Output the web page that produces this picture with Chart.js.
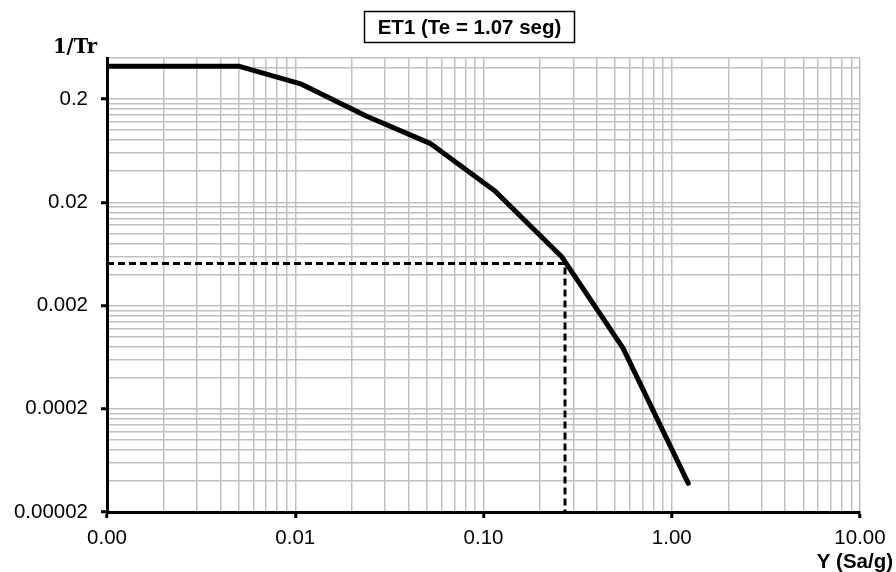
<!DOCTYPE html>
<html><head><meta charset="utf-8">
<script src="https://cdn.jsdelivr.net/npm/chart.js@4/dist/chart.umd.min.js"></script>
<style>html,body{margin:0;padding:0;background:#fff}#wrap{width:896px;height:572px}</style>
</head><body><div id="wrap"><canvas id="c" width="896" height="572"></canvas></div>
<script>
// ---- data ----
const sa = [0.001, 0.005, 0.0108, 0.0238, 0.052, 0.115, 0.261, 0.551, 1.224];
const invTr = [0.417, 0.417, 0.279, 0.137, 0.0745, 0.0257, 0.0059, 0.000775, 0.0000379];
const guideX = [0.001, 0.271, 0.271];
const guideY = [0.0051, 0.0051, 0.00002];
const xTickValues = [0.001, 0.01, 0.1, 1, 10];
const xTickLabels = ['0.00', '0.01', '0.10', '1.00', '10.00'];
const yTickValues = [0.00002, 0.0002, 0.002, 0.02, 0.2];
const yTickLabels = ['0.00002', '0.0002', '0.002', '0.02', '0.2'];
const xMin = 0.001, xMax = 10, yMin = 0.00002, yMax = 0.5;
const titleText = 'ET1 (Te = 1.07 seg)';
const yTitle = '1/Tr';
const xTitle = 'Y (Sa/g)';

function buildLogTicks(majors, labels, max) {
  const t = [];
  majors.forEach((v, i) => {
    t.push({ value: v, lab: labels[i] });
    for (let m = 2; m <= 9; m++) {
      const mv = v * m;
      if (mv < max * 1.0001 && (i + 1 >= majors.length || mv < majors[i + 1] * 0.9999)) t.push({ value: mv, lab: '' });
    }
  });
  if (!t.some(o => Math.abs(o.value / max - 1) < 1e-6)) t.push({ value: max, lab: '' });
  return t.sort((a, b) => a.value - b.value);
}

const SANS = '"Liberation Sans", Arial, sans-serif';
const tickColor = ctx => (ctx.tick && ctx.tick.lab) ? '#000' : 'rgba(0,0,0,0)';

const annot = {
  id: 'annot',
  afterDraw(chart) {
    const ctx = chart.ctx;
    ctx.save();
    // title box
    ctx.fillStyle = '#fff';
    ctx.fillRect(364, 11, 211, 32);
    ctx.strokeStyle = '#000';
    ctx.lineWidth = 1.5;
    ctx.strokeRect(364.5, 11.5, 210, 31);
    ctx.fillStyle = '#000';
    ctx.font = 'bold 20.5px ' + SANS;
    ctx.textAlign = 'center';
    ctx.textBaseline = 'middle';
    ctx.fillText(titleText, 469.5, 28);
    // y title
    ctx.font = 'bold 19.5px "DejaVu Serif", serif';
    ctx.textAlign = 'left';
    ctx.textBaseline = 'alphabetic';
    ctx.fillText(yTitle, 53, 53);
    // x title
    ctx.font = 'bold 20.5px ' + SANS;
    ctx.textAlign = 'right';
    ctx.textBaseline = 'middle';
    ctx.fillText(xTitle, 893, 562);
    ctx.restore();
  }
};

new Chart(document.getElementById('c'), {
  type: 'line',
  data: {
    datasets: [
      {
        data: guideX.map((x, i) => ({ x: x, y: guideY[i] })),
        borderColor: '#000', borderWidth: 3, borderDash: [7, 4],
        pointRadius: 0, fill: false, tension: 0
      },
      {
        data: sa.map((x, i) => ({ x: x, y: invTr[i] })),
        borderColor: '#000', borderWidth: 5, pointRadius: 0, fill: false, tension: 0,
        borderCapStyle: 'round', borderJoinStyle: 'round'
      }
    ]
  },
  options: {
    responsive: false,
    animation: false,
    devicePixelRatio: 1,
    layout: { padding: { left: 0, right: 36, top: 58, bottom: 0 } },
    plugins: { legend: { display: false }, tooltip: { enabled: false }, title: { display: false } },
    scales: {
      x: {
        type: 'logarithmic', min: xMin, max: xMax,
        afterBuildTicks: s => { s.ticks = buildLogTicks(xTickValues, xTickLabels, xMax); },
        afterFit: s => { s.height = 60; },
        grid: { color: '#c0c0c0', lineWidth: 1.5, drawTicks: true, tickLength: 6, tickWidth: 3, tickColor: tickColor },
        border: { display: true, color: '#000', width: 3 },
        ticks: { autoSkip: false, maxRotation: 0, minRotation: 0, padding: 8, color: '#000',
          font: { family: SANS, size: 20.5 }, callback: (v, i, t) => t[i].lab }
      },
      y: {
        type: 'logarithmic', min: yMin, max: yMax,
        afterBuildTicks: s => { s.ticks = buildLogTicks(yTickValues, yTickLabels, yMax); },
        afterFit: s => { s.width = 107; },
        grid: { color: '#c0c0c0', lineWidth: 1.5, drawTicks: true, tickLength: 6, tickWidth: 3, tickColor: tickColor },
        border: { display: true, color: '#000', width: 3 },
        ticks: { autoSkip: false, padding: 13, color: '#000',
          font: { family: SANS, size: 20.5 }, callback: (v, i, t) => t[i].lab }
      }
    }
  },
  plugins: [annot]
});
</script>
</body></html>
